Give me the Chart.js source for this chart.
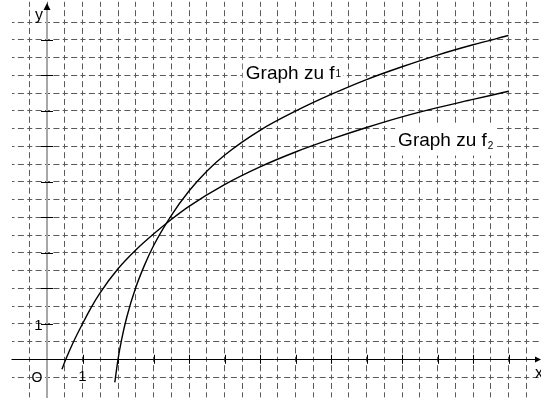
<!DOCTYPE html>
<html>
<head>
<meta charset="utf-8">
<title>Graph zu f1 und f2</title>
<style>
  html, body { margin: 0; padding: 0; background: #fff; }
  #wrap { width: 541px; height: 398px; }
</style>
</head>
<body>
<div id="wrap"><canvas id="chart"></canvas></div>

<script src="https://cdn.jsdelivr.net/npm/chart.js"></script>
<script>
// values
const f1X = [1.91, 2.0, 2.1, 2.25, 2.5, 2.75, 3.0, 3.5, 4.0, 4.5, 5.0, 6.0, 7.0, 8.0, 9.0, 10.0, 11.0, 12.0, 13.0];
const f1Y = [-0.65, 0, 0.55, 1.2, 2.02, 2.66, 3.2, 4.05, 4.74, 5.3, 5.75, 6.45, 6.99, 7.46, 7.88, 8.24, 8.57, 8.86, 9.12];
const f2X = [0.42, 0.53, 0.75, 1.0, 1.25, 1.5, 2.0, 2.5, 3.0, 3.5, 4.0, 5.0, 6.0, 7.0, 8.0, 9.0, 10.0, 11.0, 12.0, 13.0];
const f2Y = [-0.28, 0, 0.5, 1.0, 1.47, 1.88, 2.55, 3.08, 3.53, 3.94, 4.31, 4.92, 5.42, 5.84, 6.2, 6.53, 6.83, 7.09, 7.32, 7.55];

const xTicks = [1, 2, 3, 4, 5, 6, 7, 8, 9, 10, 11, 12, 13];
const yTicks = [1, 2, 3, 4, 5, 6, 7, 8, 9];
const xTickLabel = '1';
const yTickLabel = '1';

const FONT = '"Liberation Sans", Arial, sans-serif';

function halfSteps(from, to) {
    const out = [];
    for (let v = from; v <= to + 1e-9; v += 0.5) out.push({ value: v });
    return out;
}

function drawLabel(ctx, left, base, sub, subDy) {
    ctx.font = '19px ' + FONT;
    const w = ctx.measureText('Graph zu f').width;
    ctx.font = '10px ' + FONT;
    const sw = ctx.measureText(sub).width;
    ctx.fillStyle = '#fff';
    ctx.fillRect(left - 3, base - 21, w + sw + 6, 31);
    ctx.fillStyle = '#000';
    ctx.textAlign = 'left';
    ctx.textBaseline = 'alphabetic';
    ctx.font = '19px ' + FONT;
    ctx.fillText('Graph zu f', left, base);
    ctx.font = '10px ' + FONT;
    ctx.fillText(sub, left + w + 1, base + subDy);
}

const axesPlugin = {
    id: 'axes',
    beforeDatasetsDraw(chart) {
        const { ctx, scales: { x, y } } = chart;
        const x0 = x.getPixelForValue(0);
        const y0 = y.getPixelForValue(0);
        ctx.save();

        // labels with white boxes
        drawLabel(ctx, x.getPixelForValue(5.6), y.getPixelForValue(7.9), '1', -2);
        drawLabel(ctx, x.getPixelForValue(9.89), y.getPixelForValue(6.02), '2', 3);

        // y axis
        ctx.strokeStyle = '#a8a8a8';
        ctx.lineWidth = 2;
        ctx.beginPath();
        ctx.moveTo(x0, chart.height);
        ctx.lineTo(x0, 8);
        ctx.stroke();
        ctx.fillStyle = '#000';
        ctx.beginPath();
        ctx.moveTo(x0, 3);
        ctx.lineTo(x0 - 3.5, 10);
        ctx.lineTo(x0 + 3.5, 10);
        ctx.closePath();
        ctx.fill();

        // x axis
        ctx.strokeStyle = '#000';
        ctx.lineWidth = 1;
        const yl = Math.round(y0) + 0.5;
        ctx.beginPath();
        ctx.moveTo(x.getPixelForValue(-1), yl);
        ctx.lineTo(chart.width - 4, yl);
        ctx.stroke();
        ctx.beginPath();
        ctx.moveTo(chart.width, yl);
        ctx.lineTo(chart.width - 6, yl - 3);
        ctx.lineTo(chart.width - 6, yl + 3);
        ctx.closePath();
        ctx.fill();

        // tick marks
        ctx.beginPath();
        xTicks.forEach(v => {
            const px = Math.round(x.getPixelForValue(v)) + 0.5;
            ctx.moveTo(px, y0 - 4.5);
            ctx.lineTo(px, y0 + 4.5);
        });
        yTicks.forEach(v => {
            const py = Math.round(y.getPixelForValue(v)) + 0.5;
            ctx.moveTo(x0 - 6, py);
            ctx.lineTo(x0 + 6, py);
        });
        ctx.stroke();

        // axis texts
        ctx.fillStyle = '#000';
        ctx.textAlign = 'center';
        ctx.textBaseline = 'alphabetic';
        ctx.font = '15px ' + FONT;
        ctx.fillText(xTickLabel, x.getPixelForValue(1), y0 + 22);
        ctx.fillText(yTickLabel, x0 - 8.5, y.getPixelForValue(1) + 6);
        ctx.font = '14px ' + FONT;
        ctx.fillText('O', x0 - 10, y0 + 23);
        ctx.font = '16px ' + FONT;
        ctx.fillText('y', x0 - 8, 20);
        ctx.textAlign = 'left';
        ctx.fillText('x', chart.width - 6, y0 + 19);

        ctx.restore();
    }
};

function points(xs, ys) {
    return xs.map((v, i) => ({ x: v, y: ys[i] }));
}

const curve = {
    borderColor: '#000',
    borderWidth: 1.4,
    pointRadius: 0,
    fill: false,
    cubicInterpolationMode: 'monotone'
};

new Chart(document.getElementById('chart'), {
    type: 'line',
    data: {
        datasets: [
            Object.assign({ label: 'f1', data: points(f1X, f1Y) }, curve),
            Object.assign({ label: 'f2', data: points(f2X, f2Y) }, curve)
        ]
    },
    options: {
        responsive: true,
        maintainAspectRatio: false,
        animation: false,
        devicePixelRatio: 1,
        layout: { padding: { left: 11.5, right: 0, top: 0, bottom: 0 }, autoPadding: false },
        plugins: { legend: { display: false }, tooltip: { enabled: false } },
        scales: {
            x: {
                type: 'linear',
                min: -1,
                max: 13.915,
                afterBuildTicks: scale => { scale.ticks = halfSteps(-0.5, 13.5); },
                ticks: { display: false },
                grid: { color: '#5a5a5a', lineWidth: 1, drawTicks: false },
                border: { display: false, dash: [5, 3.4, 6, 3.35], dashOffset: 15.95 }
            },
            y: {
                type: 'linear',
                min: -1.09,
                max: 10.121,
                afterBuildTicks: scale => { scale.ticks = halfSteps(-0.5, 9.5); },
                ticks: { display: false },
                grid: { color: '#5a5a5a', lineWidth: 1, drawTicks: false },
                border: { display: false, dash: [5, 3.4, 6, 3.35], dashOffset: 2.5 }
            }
        }
    },
    plugins: [axesPlugin]
});
</script>
</body>
</html>
